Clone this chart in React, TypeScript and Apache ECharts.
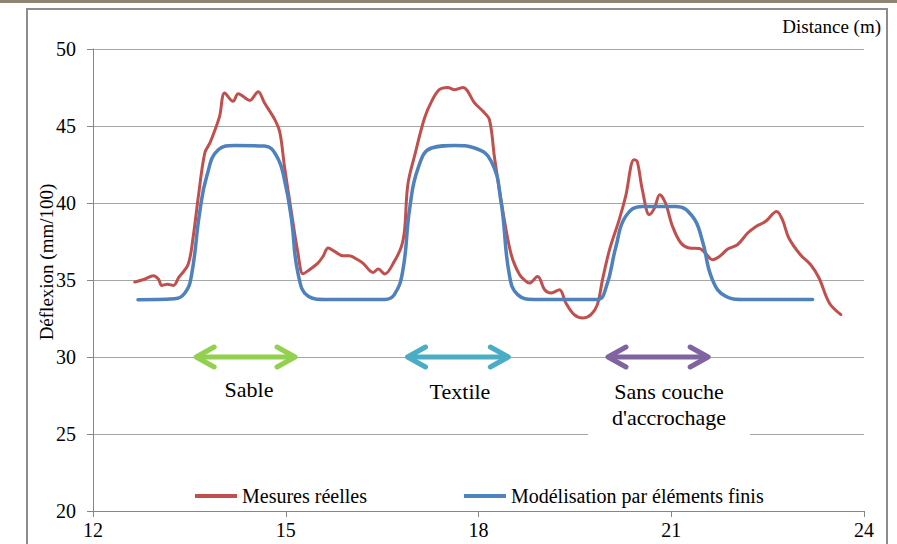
import React, { useEffect, useRef } from "react";
import * as echarts from "echarts";

// Mesures réelles (distance in m, déflexion in mm/100)
const distanceMesures = [
  12.65, 12.80, 12.94, 13.02, 13.07, 13.16, 13.25, 13.34, 13.48, 13.56, 13.64, 13.74, 13.82, 13.90, 13.97,
  14.05, 14.18, 14.26, 14.44, 14.57, 14.67, 14.83, 14.91, 14.98, 15.09, 15.19, 15.27, 15.37, 15.50, 15.58,
  15.66, 15.76, 15.89, 15.99, 16.10, 16.20, 16.36, 16.44, 16.54, 16.69, 16.80, 16.85, 16.90, 17.01, 17.16,
  17.27, 17.39, 17.52, 17.63, 17.76, 17.94, 18.07, 18.17, 18.25, 18.38, 18.51, 18.64, 18.74, 18.79, 18.92,
  19.03, 19.13, 19.26, 19.36, 19.49, 19.62, 19.75, 19.85, 19.93, 20.04, 20.19, 20.29, 20.42, 20.47, 20.55,
  20.66, 20.74, 20.82, 20.91, 21.02, 21.15, 21.28, 21.44, 21.54, 21.64, 21.75, 21.88, 22.03, 22.19, 22.32,
  22.47, 22.64, 22.73, 22.83, 23.01, 23.17, 23.30, 23.46, 23.64,
];
const deflexionMesures = [
  34.87, 35.05, 35.28, 35.05, 34.65, 34.72, 34.65, 35.20, 36.00, 37.83, 40.43, 43.25, 43.90, 44.76, 45.62,
  47.14, 46.60, 47.10, 46.66, 47.23, 46.49, 45.41, 44.55, 42.38, 39.35, 36.75, 35.40, 35.67, 36.10, 36.53,
  37.08, 36.86, 36.58, 36.58, 36.36, 36.10, 35.49, 35.71, 35.39, 36.21, 37.18, 38.27, 41.19, 43.14, 45.52,
  46.60, 47.36, 47.50, 47.36, 47.50, 46.49, 45.95, 45.41, 42.92, 39.45, 36.64, 35.34, 34.91, 34.80, 35.23,
  34.37, 34.16, 34.37, 33.51, 32.75, 32.53, 32.75, 33.40, 35.02, 36.97, 38.92, 40.43, 42.81, 42.70, 40.86,
  39.24, 39.68, 40.54, 40.00, 38.48, 37.40, 37.08, 37.04, 36.70, 36.32, 36.53, 37.01, 37.29, 38.05, 38.48,
  38.81, 39.45, 38.92, 37.73, 36.64, 35.99, 35.13, 33.51, 32.75,
];

// Modélisation par éléments finis
const distanceModele = [
  12.70, 13.27, 13.43, 13.53, 13.66, 13.77, 13.95, 14.21, 14.67, 14.86, 14.98, 15.09, 15.19, 15.35, 15.61,
  16.54, 16.69, 16.82, 16.93, 17.06, 17.27, 17.63, 17.94, 18.20, 18.35, 18.48, 18.61, 18.87, 19.85, 19.99,
  20.14, 20.29, 20.55, 21.07, 21.33, 21.48, 21.64, 21.85, 22.11, 23.20,
];
const deflexionModele = [
  33.72, 33.78, 34.16, 35.23, 39.37, 41.73, 43.46, 43.74, 43.70, 43.03, 41.51, 38.92, 35.45, 33.94, 33.74,
  33.74, 34.05, 35.56, 39.67, 42.27, 43.57, 43.74, 43.57, 42.70, 40.10, 35.34, 34.05, 33.74, 33.74, 34.58,
  37.18, 39.13, 39.78, 39.78, 39.13, 37.62, 35.02, 33.94, 33.74, 33.74,
];

const seriesNames = ["Mesures réelles", "Modélisation par éléments finis"];
const seriesColors = ["#C0504D", "#4F81BD"];

// Zones (double arrows)
const zoneStart = [13.59, 16.88, 20.0];
const zoneEnd = [15.16, 18.48, 21.59];
const zoneLevel = [30, 30, 30];
const zoneColors = ["#92D050", "#4BACC6", "#8064A2"];

const FONT = "Liberation Serif";

export default function App() {
  const ref = useRef<HTMLDivElement>(null);

  useEffect(() => {
    if (!ref.current) return;
    const chart = echarts.init(ref.current, undefined, { renderer: "svg" });

    const mesures = distanceMesures.map((x, i) => [x, deflexionMesures[i]]);
    const modele = distanceModele.map((x, i) => [x, deflexionModele[i]]);
    const zones = zoneStart.map((s, i) => [s, zoneLevel[i], zoneEnd[i], i]);

    const txt = (text: string, x: number, y: number, size: number, align: string, extra: any = {}) => ({
      type: "text",
      z: 101,
      x,
      y,
      ...extra,
      style: { text, fontFamily: FONT, fontSize: size, fill: "#000", align, verticalAlign: "middle" },
    });

    chart.setOption({
      animation: false,
      backgroundColor: "#ffffff",
      textStyle: { fontFamily: FONT },
      grid: { left: 93, right: 33, top: 49, bottom: 33, containLabel: false },
      legend: {
        data: seriesNames,
        left: 190,
        top: 481,
        icon: "rect",
        itemWidth: 42,
        itemHeight: 4,
        itemGap: 97,
        textStyle: { fontFamily: FONT, fontSize: 20, color: "#000" },
      },
      xAxis: {
        type: "value",
        min: 12,
        max: 24,
        interval: 3,
        axisLine: { show: true, lineStyle: { color: "#868686", width: 1 } },
        axisTick: { show: true, inside: false, length: 6, lineStyle: { color: "#868686" } },
        axisLabel: { fontFamily: FONT, fontSize: 20, color: "#000", margin: 9 },
        splitLine: { show: false },
      },
      yAxis: {
        type: "value",
        min: 20,
        max: 50,
        interval: 5,
        axisLine: { show: true, lineStyle: { color: "#868686", width: 1 } },
        axisTick: { show: true, inside: false, length: 6, lineStyle: { color: "#868686" } },
        axisLabel: { fontFamily: FONT, fontSize: 20, color: "#000", margin: 17 },
        splitLine: { show: true, lineStyle: { color: "#A6A6A6", width: 1 } },
      },
      series: [
        {
          name: seriesNames[0],
          type: "line",
          data: mesures,
          symbol: "none",
          smooth: 0.35,
          color: seriesColors[0],
          lineStyle: { color: seriesColors[0], width: 3, cap: "round", join: "round" },
          z: 3,
        },
        {
          name: seriesNames[1],
          type: "line",
          data: modele,
          symbol: "none",
          smooth: 0.45,
          color: seriesColors[1],
          lineStyle: { color: seriesColors[1], width: 3.5, cap: "round", join: "round" },
          z: 4,
        },
        {
          name: "zones",
          type: "custom",
          data: zones,
          encode: { x: [0, 2], y: 1 },
          z: 5,
          renderItem: (params: any, api: any) => {
            const p1 = api.coord([api.value(0), api.value(1)]);
            const p2 = api.coord([api.value(2), api.value(1)]);
            const color = zoneColors[api.value(3)];
            const y = p1[1];
            const style = { stroke: color, lineWidth: 5, fill: null, lineCap: "round", lineJoin: "round" };
            return {
              type: "group",
              children: [
                { type: "line", shape: { x1: p1[0] + 3, y1: y, x2: p2[0] - 3, y2: y }, style: { ...style, lineCap: "butt" } },
                { type: "polyline", shape: { points: [[p1[0] + 19, y - 10], [p1[0] + 1, y], [p1[0] + 19, y + 10]] }, style },
                { type: "polyline", shape: { points: [[p2[0] - 19, y - 10], [p2[0] - 1, y], [p2[0] - 19, y + 10]] }, style },
              ],
            };
          },
        },
      ],
      graphic: [
        { type: "rect", z: 0, shape: { x: 0, y: 0, width: 897, height: 3 }, style: { fill: "#8f8473" } },
        { type: "rect", z: 0, shape: { x: 27, y: 9, width: 860, height: 560 }, style: { fill: null, stroke: "#8c8c8c", lineWidth: 2 } },
        { type: "rect", z: 100, shape: { x: 588, y: 376, width: 162, height: 64 }, style: { fill: "#ffffff" } },
        txt("Distance (m)", 881, 26, 19, "right"),
        txt("Déflexion (mm/100)", 46, 262, 19, "center", { rotation: Math.PI / 2 }),
        txt("Sable", 249, 389, 22, "center"),
        txt("Textile", 460, 391, 22, "center"),
        txt("Sans couche", 669, 391, 22, "center"),
        txt("d'accrochage", 669, 417, 22, "center"),
      ],
    });

    return () => chart.dispose();
  }, []);

  return (
    <div
      ref={ref}
      style={{ position: "fixed", left: 0, top: 0, width: 897, height: 544, background: "#fff" }}
    />
  );
}
